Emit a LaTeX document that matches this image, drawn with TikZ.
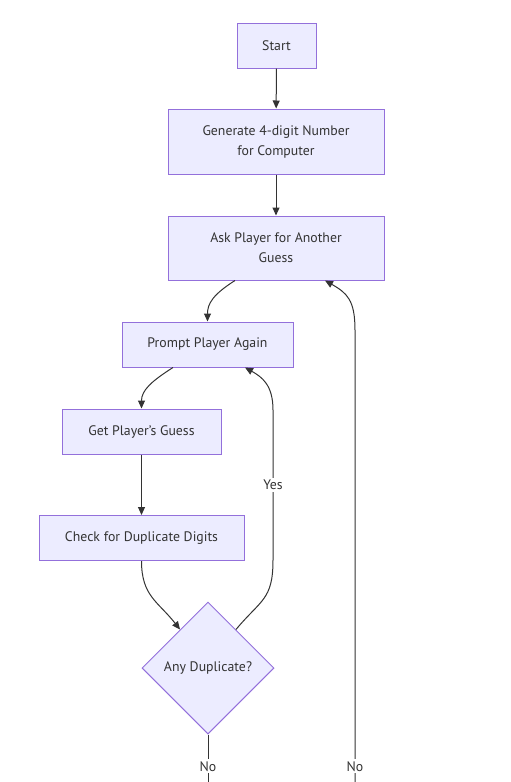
\documentclass[tikz,border=0pt]{standalone}
\usepackage{fontspec}
\setmainfont{PT Sans}
\usepackage{tikz}
\usetikzlibrary{arrows.meta, shapes.geometric, calc}

\definecolor{boxfill}{HTML}{ECECFF}
\definecolor{boxline}{HTML}{9370DB}
\definecolor{flowline}{HTML}{333333}

\begin{document}
\begin{tikzpicture}[x=1pt, y=-1pt,
    proc/.style={draw=boxline, fill=boxfill, line width=1pt, minimum height=45pt, align=center, text=flowline, font=\fontsize{13.8}{20}\selectfont},
    decide/.style={diamond, draw=boxline, fill=boxfill, line width=1pt, aspect=1, minimum width=132pt, minimum height=132pt, inner sep=0pt, text=flowline, font=\fontsize{13.8}{20}\selectfont},
    flow/.style={draw=flowline, line width=1pt, -{Triangle[length=8pt, width=7pt]}},
    lbl/.style={fill=white, inner sep=2pt, text=flowline, font=\fontsize{13.8}{16}\selectfont}]

    \useasboundingbox (0,0) rectangle (511,782);

    \node[proc, minimum width=79pt] (start) at (276.5,45.5) {Start};
    \node[proc, minimum width=216pt, minimum height=65pt] (gen) at (276,141.5) {Generate 4-digit Number\\for Computer};
    \node[proc, minimum width=216pt, minimum height=64pt] (ask) at (276,248) {Ask Player for Another\\Guess};

    \node[proc, minimum width=171pt] (prompt) at (207.5,344.5) {Prompt Player Again};
    \node[proc, minimum width=159pt] (guess) at (141.5,431.5) {Get Player's Guess};
    \node[proc, minimum width=205pt] (check) at (141.5,538) {Check for Duplicate Digits};

    \node[decide] (dup) at (208,668) {Any Duplicate?};

    \coordinate (noleft) at (208,782);
    \coordinate (noright) at (355,782);

    \draw[flow] (start) -- (gen);
    \draw[flow] (gen) -- (ask);
    \draw[flow] ($(ask.south)+(-41,0)$) .. controls +(-22,14) and +(0,-18) .. (prompt.north);
    \draw[flow] ($(prompt.south)+(-34.5,0)$) .. controls +(-22,14) and +(0,-18) .. (guess.north);
    \draw[flow] (guess) -- (check);
    \draw[flow] (check.south) .. controls +(0,35) and +(-22,-28) .. (dup.126);

    \draw[flow] (dup.54) .. controls +(25,-30) and (273,600) .. (273,560) -- node[lbl]{Yes} (273,410) .. controls (273,385) and (262,377) .. ($(prompt.south)+(37.5,0)$);

    \draw[draw=flowline, line width=1pt] (dup.south) -- node[lbl, pos=0.67]{No} (noleft);
    \draw[flow] (noright) -- node[lbl, pos=0.035]{No} (355,330) .. controls (355,300) and (347,293) .. ($(ask.south)+(49,0)$);
\end{tikzpicture}
\end{document}
